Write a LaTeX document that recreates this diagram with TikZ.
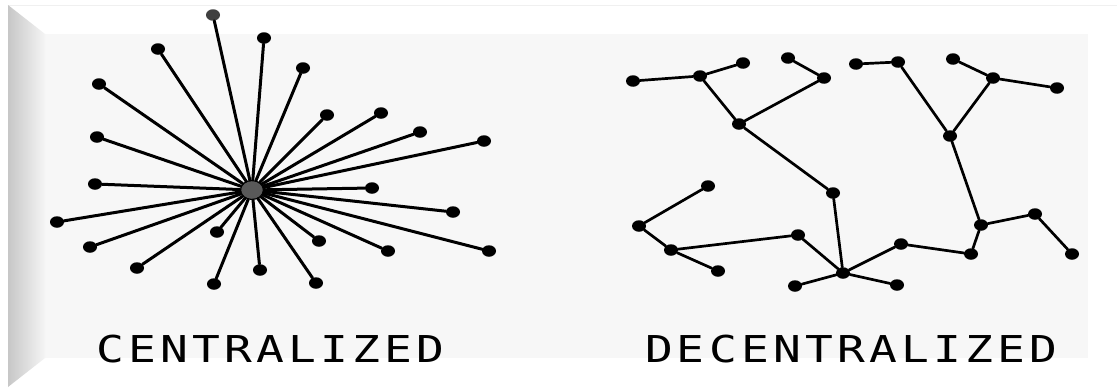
\documentclass[tikz,border=0pt]{standalone}
\usepackage{fontspec}
\usetikzlibrary{shapes.geometric}
\newfontfamily\capfont{DejaVu Sans Mono}[LetterSpace=9]

\begin{document}
\begin{tikzpicture}[x=1pt,y=-1pt,line cap=round,
		leaf/.style={ellipse,fill=black,inner sep=0,minimum width=14pt,minimum height=11.5pt},
		hub/.style={ellipse,draw=black,line width=1.2pt,fill=black!65,inner sep=0,minimum width=23pt,minimum height=19pt},
		spoke/.style={line width=3pt},
		link/.style={line width=2.7pt},
		title/.style={font=\capfont\fontsize{37}{40}\selectfont}]
		% bevelled panel
		\useasboundingbox (0,0) rectangle (1117,388);
		\fill[white] (0,0) rectangle (1117,388);
		\draw[black!6] (8,5) -- (1117,5);
		\fill[black!3] (45,34) rectangle (1088,358);
		\shade[left color=black!22,right color=black!4] (8,5) -- (45,34) -- (45,358) -- (8,387) -- cycle;
		% centralized: one hub, every leaf wired to it
		\node[hub] (H) at (252,190) {};
		\node[leaf,fill=black!75] (L0) at (213,15) {};
		\draw[spoke] (H) -- (L0);
		\foreach \n/\x/\y in {1/264/38,2/158/49,3/303/68,4/99/84,5/327/115,6/381/113,7/97/137,8/420/132,9/484/141,10/95/184,11/372/188,12/57/222,13/453/212,14/90/247,15/217/232,16/319/241,17/388/251,18/489/251,19/137/268,20/260/270,21/214/284,22/316/283}
		{
			\node[leaf] (L\n) at (\x,\y) {};
			\draw[spoke] (H) -- (L\n);
		}
		% decentralized: several small hubs
		\foreach \n/\x/\y in {A/633/81,B/700/76,C/743/63,D/788/58,E/824/78,F/739/124,G/856/64,H/898/62,I/953/59,J/993/78,K/1057/88,L/950/136,M/708/186,N/639/226,O/671/250,P/718/271,Q/798/235,R/833/193,S/843/273,T/795/286,U/981/225,V/1035/214,W/1072/254,X/971/254,Y/901/244,Z/897/285}
		\node[leaf] (\n) at (\x,\y) {};
		\foreach \a/\b in {A/B,B/C,B/F,F/E,E/D,F/R,R/S,S/Q,Q/O,O/N,N/M,O/P,S/T,S/Z,S/Y,Y/X,X/U,U/V,V/W,U/L,L/H,H/G,L/J,J/I,J/K}
		\draw[link] (\a) -- (\b);
		\node[title] (cen) at (270,349) {\scalebox{1.25}[1]{CENTRALIZED}};
		\node[title] (dec) at (851,349) {\scalebox{1.25}[1]{DECENTRALIZED}};
	\end{tikzpicture}
\end{document}
